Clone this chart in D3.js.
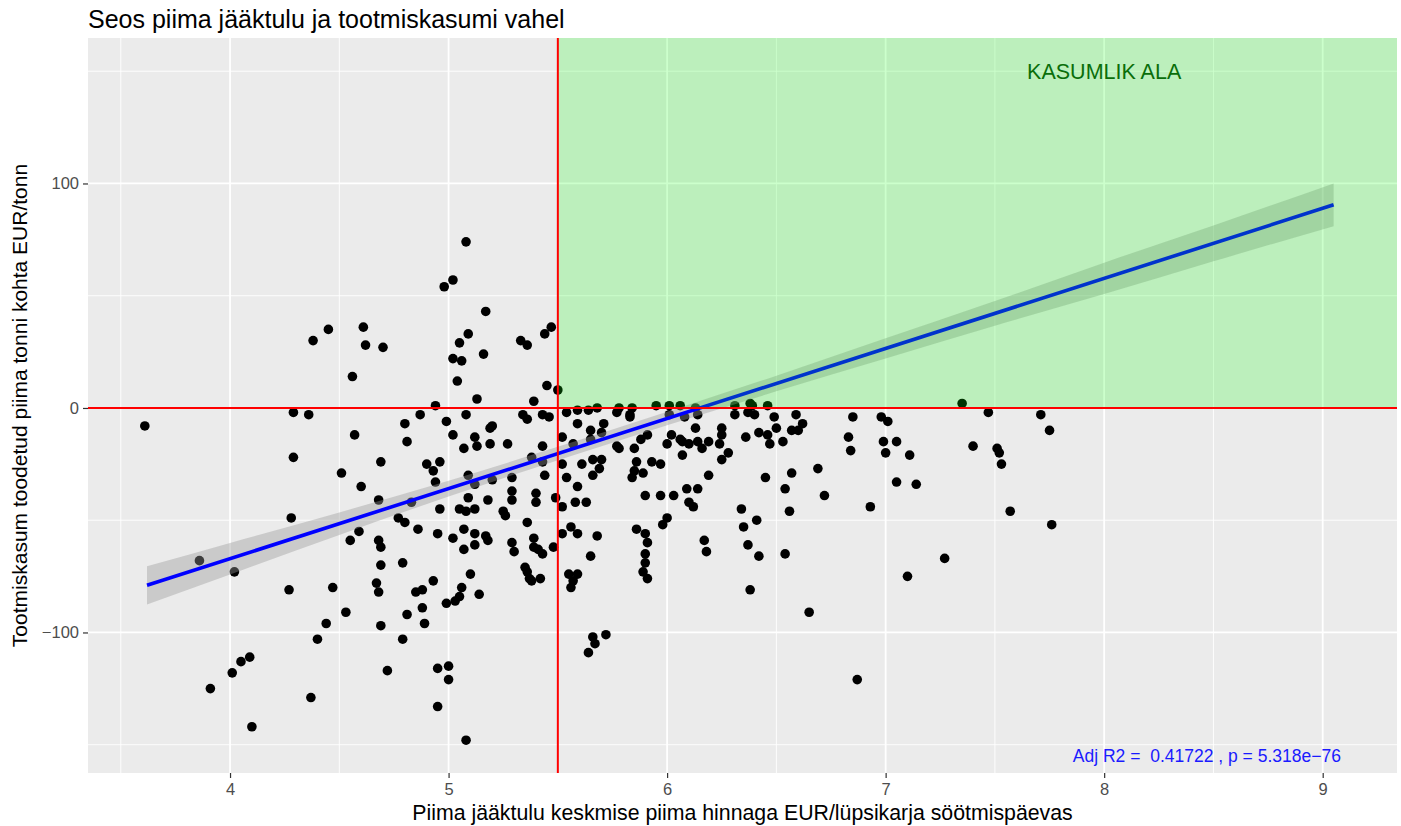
<!DOCTYPE html>
<html>
<head>
<meta charset="utf-8">
<script src="https://cdnjs.cloudflare.com/ajax/libs/d3/7.8.5/d3.min.js"></script>
<style>
  body { margin: 0; background: #fff; }
  text { font-family: "Liberation Sans", Arial, sans-serif; }
</style>
</head>
<body>
<svg id="chart" width="1401" height="826"></svg>
<script>
// jääktulu (EUR/lüpsikarja söötmispäev) ja tootmiskasum (EUR/tonn), loetud pildilt
let jaaktulu = [
  3.61,3.86,3.91,4.01,4.02,4.05,4.09,4.10,4.27,4.28,4.29,4.29,4.36,4.37,4.38,4.40,4.44,4.45,4.47,4.51,
  4.53,4.55,4.56,4.57,4.59,4.60,4.61,4.62,4.70,4.67,4.68,4.68,4.68,4.69,4.69,4.69,4.69,4.72,4.77,4.79,
  4.79,4.80,4.80,4.81,4.81,4.83,4.85,4.86,4.87,4.88,4.88,4.89,4.90,4.93,4.93,4.94,4.94,4.95,4.95,4.95,
  4.96,4.96,4.98,4.99,4.99,5.00,5.00,5.02,5.02,5.02,5.02,5.03,5.04,5.05,5.05,5.05,5.06,5.06,5.07,5.07,
  5.07,5.08,5.08,5.08,5.08,5.09,5.09,5.09,5.10,5.12,5.12,5.12,5.12,5.12,5.13,5.13,5.14,5.16,5.17,5.17,
  5.18,5.18,5.19,5.19,5.20,5.20,5.25,5.26,5.27,5.29,5.29,5.29,5.29,5.30,5.33,5.34,5.35,5.36,5.36,5.36,
  5.36,5.37,5.38,5.38,5.39,5.39,5.39,5.40,5.40,5.41,5.42,5.43,5.43,5.43,5.43,5.44,5.44,5.45,5.46,5.47,
  5.48,5.49,5.50,5.54,5.52,5.52,5.52,5.52,5.54,5.55,5.56,5.56,5.57,5.57,5.58,5.59,5.59,5.59,5.59,5.59,
  5.61,5.63,5.64,5.64,5.65,5.65,5.65,5.66,5.66,5.66,5.67,5.68,5.68,5.70,5.70,5.69,5.71,5.72,5.77,5.77,
  5.78,5.78,5.83,5.83,5.84,5.84,5.85,5.85,5.86,5.86,5.88,5.89,5.89,5.90,5.90,5.90,5.90,5.91,5.91,5.91,
  5.93,5.95,5.97,5.97,5.98,6.00,6.00,6.01,6.01,6.02,6.03,6.06,6.06,6.07,6.07,6.08,6.09,6.10,6.10,6.12,
  6.13,6.13,6.14,6.14,6.14,6.16,6.17,6.18,6.19,6.19,6.24,6.25,6.25,6.25,6.28,6.31,6.31,6.34,6.35,6.36,
  6.37,6.37,6.38,6.38,6.39,6.40,6.41,6.42,6.42,6.45,6.46,6.46,6.47,6.49,6.50,6.53,6.54,6.54,6.56,6.57,
  6.57,6.59,6.60,6.62,6.65,6.69,6.72,6.83,6.84,6.85,6.87,6.93,6.98,6.99,7.00,7.01,7.05,7.05,7.10,7.11,
  7.14,7.27,7.35,7.40,7.47,7.51,7.52,7.53,7.57,7.71,7.75,7.76
];
let kasum = [
  -8,-68,-125,-118,-73,-113,-111,-142,-81,-49,-22,-2,-3,-129,30,-103,-96,35,-80,-29,
  -91,-59,14,-12,-55,-35,36,28,27,-78,-82,-41,-59,-62,-70,-24,-97,-117,-49,-69,
  -103,-51,-7,-15,-92,-42,-82,-54,-3,-81,-89,-96,-25,-28,-77,-33,1,-56,-116,-133,
  -24,-45,54,-6,-87,-115,-121,57,22,-12,-58,-86,12,29,-45,-84,21,-80,-18,-54,
  -63,74,-3,-46,-148,33,-30,-40,-74,-13,-34,-45,-56,-61,4,-17,-83,24,43,-57,
  -41,-59,-9,-16,-8,-32,-46,-48,-16,-31,-37,-41,-60,-64,30,-3,-71,28,-5,-51,
  -73,-76,-22,-77,3,-58,-62,-38,-42,-63,-76,-3,-17,-24,-65,33,-30,10,-4,36,
  -62,-40,8,-2,-13,-25,-44,-56,-31,-74,-53,-80,-77,-16,-42,-1,-7,-35,-56,-74,
  -25,-42,-1,-109,-10,-14,-66,-23,-30,-102,-105,0,-57,-11,-23,-27,-7,-101,-2,-17,
  0,-18,-3,-4,0,-31,-18,-28,-24,-54,-14,-29,-73,-39,-56,-65,-69,-12,-60,-76,
  -24,1,-25,-39,-52,-16,-49,1,-3,-12,-39,1,-14,-15,-21,-4,-36,-16,-42,-44,
  0,-9,-3,-15,-36,-18,-59,-64,-15,-30,-16,-9,-12,-23,-20,1,-3,-45,-53,-13,
  -2,-61,2,-81,1,-3,-50,-11,-66,-31,1,-12,-16,-4,-9,-15,-36,-65,-46,-10,
  -29,-3,-10,-7,-91,-27,-39,-13,-19,-4,-121,-44,-4,-15,-20,-6,-15,-33,-75,-21,
  -34,-67,2,-17,-2,-18,-20,-25,-46,-3,-10,-52
];

// regressioonijoon ja usaldusvahemik (loetud pildilt)
let fitX = [3.62, 9.05];
let fitY = [-79, 90.5];
let bandX = [3.62, 4, 4.5, 5, 5.5, 6, 6.5, 7, 7.5, 8, 8.5, 9.05];
let bandHalf = [8.5, 7, 5, 3.5, 3, 3, 3.5, 4.5, 5.5, 7, 8, 9.5];

let xMajor = [4, 5, 6, 7, 8, 9];
let xMinor = [3.5, 4.5, 5.5, 6.5, 7.5, 8.5];
let yMajor = [-100, 0, 100];
let yMinor = [-150, -50, 50, 150];

let xLimit = 5.5;   // punane vertikaaljoon
let yLimit = 0;     // punane horisontaaljoon

let svg = d3.select("#chart");

let pLeft = 88, pRight = 1397, pTop = 38, pBottom = 773;

let x = d3.scaleLinear().domain([3.35, 9.34]).range([pLeft, pRight]);
let y = d3.scaleLinear().domain([-162.6, 164.8]).range([pBottom, pTop]);

// paneeli taust
svg.append("rect")
    .attr("x", pLeft).attr("y", pTop)
    .attr("width", pRight - pLeft).attr("height", pBottom - pTop)
    .attr("fill", "#ebebeb");

let grid = svg.append("g");
grid.selectAll(".xmin").data(xMinor).enter().append("line")
    .attr("x1", d => x(d)).attr("x2", d => x(d))
    .attr("y1", pTop).attr("y2", pBottom)
    .attr("stroke", "#fff").attr("stroke-width", 0.9);
grid.selectAll(".ymin").data(yMinor).enter().append("line")
    .attr("x1", pLeft).attr("x2", pRight)
    .attr("y1", d => y(d)).attr("y2", d => y(d))
    .attr("stroke", "#fff").attr("stroke-width", 0.9);
grid.selectAll(".xmaj").data(xMajor).enter().append("line")
    .attr("x1", d => x(d)).attr("x2", d => x(d))
    .attr("y1", pTop).attr("y2", pBottom)
    .attr("stroke", "#fff").attr("stroke-width", 1.8);
grid.selectAll(".ymaj").data(yMajor).enter().append("line")
    .attr("x1", pLeft).attr("x2", pRight)
    .attr("y1", d => y(d)).attr("y2", d => y(d))
    .attr("stroke", "#fff").attr("stroke-width", 1.8);

// punktid
let points = d3.range(jaaktulu.length).map(i => ({x: jaaktulu[i], y: kasum[i]}));
svg.append("g").selectAll("circle")
    .data(points).enter().append("circle")
    .attr("cx", d => x(d.x))
    .attr("cy", d => y(d.y))
    .attr("r", 4.8)
    .attr("fill", "#000");

// usaldusvahemik
let band = bandX.map((d, i) => {
  let m = fitY[0] + (fitY[1] - fitY[0]) * (d - fitX[0]) / (fitX[1] - fitX[0]);
  return {x: d, lo: m - bandHalf[i], hi: m + bandHalf[i]};
});
svg.append("path")
    .datum(band)
    .attr("d", d3.area()
      .x(d => x(d.x)).y0(d => y(d.lo)).y1(d => y(d.hi))
      .curve(d3.curveMonotoneX))
    .attr("fill", "#999").attr("fill-opacity", 0.4);

svg.append("line")
    .attr("x1", x(fitX[0])).attr("y1", y(fitY[0]))
    .attr("x2", x(fitX[1])).attr("y2", y(fitY[1]))
    .attr("stroke", "#0000ff").attr("stroke-width", 3.6);

// kasumlik ala (poolläbipaistev, joonistatud punktide ja joone peale)
svg.append("rect")
    .attr("x", x(xLimit)).attr("y", pTop)
    .attr("width", pRight - x(xLimit)).attr("height", y(yLimit) - pTop)
    .attr("fill", "#00ff00").attr("fill-opacity", 0.2);

// piirjooned
svg.append("line")
    .attr("x1", x(xLimit)).attr("x2", x(xLimit))
    .attr("y1", pTop).attr("y2", pBottom)
    .attr("stroke", "red").attr("stroke-width", 2);
svg.append("line")
    .attr("x1", pLeft).attr("x2", pRight)
    .attr("y1", y(yLimit)).attr("y2", y(yLimit))
    .attr("stroke", "red").attr("stroke-width", 2);

// annotatsioonid
svg.append("text")
    .attr("x", x(8)).attr("y", y(150))
    .attr("dy", "0.35em")
    .attr("text-anchor", "middle")
    .attr("font-size", 21.5)
    .attr("fill", "#0a6e0a")
    .text("KASUMLIK ALA");

svg.append("text")
    .attr("x", x(8.47)).attr("y", y(-155))
    .attr("dy", "0.35em")
    .attr("text-anchor", "middle")
    .attr("font-size", 17.5)
    .attr("fill", "#1a1aff")
    .attr("xml:space", "preserve")
    .text("Adj R2 =  0.41722 , p = 5.318e\u221276");

// teljed
let fmt = d => d < 0 ? "\u2212" + Math.abs(d) : "" + d;

let xAxis = svg.append("g")
    .attr("transform", "translate(0," + pBottom + ")")
    .call(d3.axisBottom(x).tickValues(xMajor).tickSize(5).tickPadding(5).tickFormat(fmt));
let yAxis = svg.append("g")
    .attr("transform", "translate(" + pLeft + ",0)")
    .call(d3.axisLeft(y).tickValues(yMajor).tickSize(5).tickPadding(4).tickFormat(fmt));

[xAxis, yAxis].forEach(a => {
  a.select(".domain").remove();
  a.selectAll(".tick line").attr("stroke", "#333").attr("stroke-width", 1.2);
  a.selectAll(".tick text")
    .attr("fill", "#4d4d4d")
    .attr("font-size", 16.5)
    .attr("font-family", "Liberation Sans, Arial, sans-serif");
});

// pealkirjad
svg.append("text")
    .attr("x", pLeft).attr("y", 28)
    .attr("font-size", 25)
    .attr("fill", "#000")
    .text("Seos piima jääktulu ja tootmiskasumi vahel");

svg.append("text")
    .attr("x", (pLeft + pRight) / 2).attr("y", 820)
    .attr("text-anchor", "middle")
    .attr("font-size", 21.3)
    .attr("fill", "#000")
    .text("Piima jääktulu keskmise piima hinnaga EUR/lüpsikarja söötmispäevas");

svg.append("text")
    .attr("transform", "translate(27," + ((pTop + pBottom) / 2) + ") rotate(-90)")
    .attr("text-anchor", "middle")
    .attr("font-size", 21)
    .attr("fill", "#000")
    .text("Tootmiskasum toodetud piima tonni kohta EUR/tonn");
</script>
</body>
</html>
